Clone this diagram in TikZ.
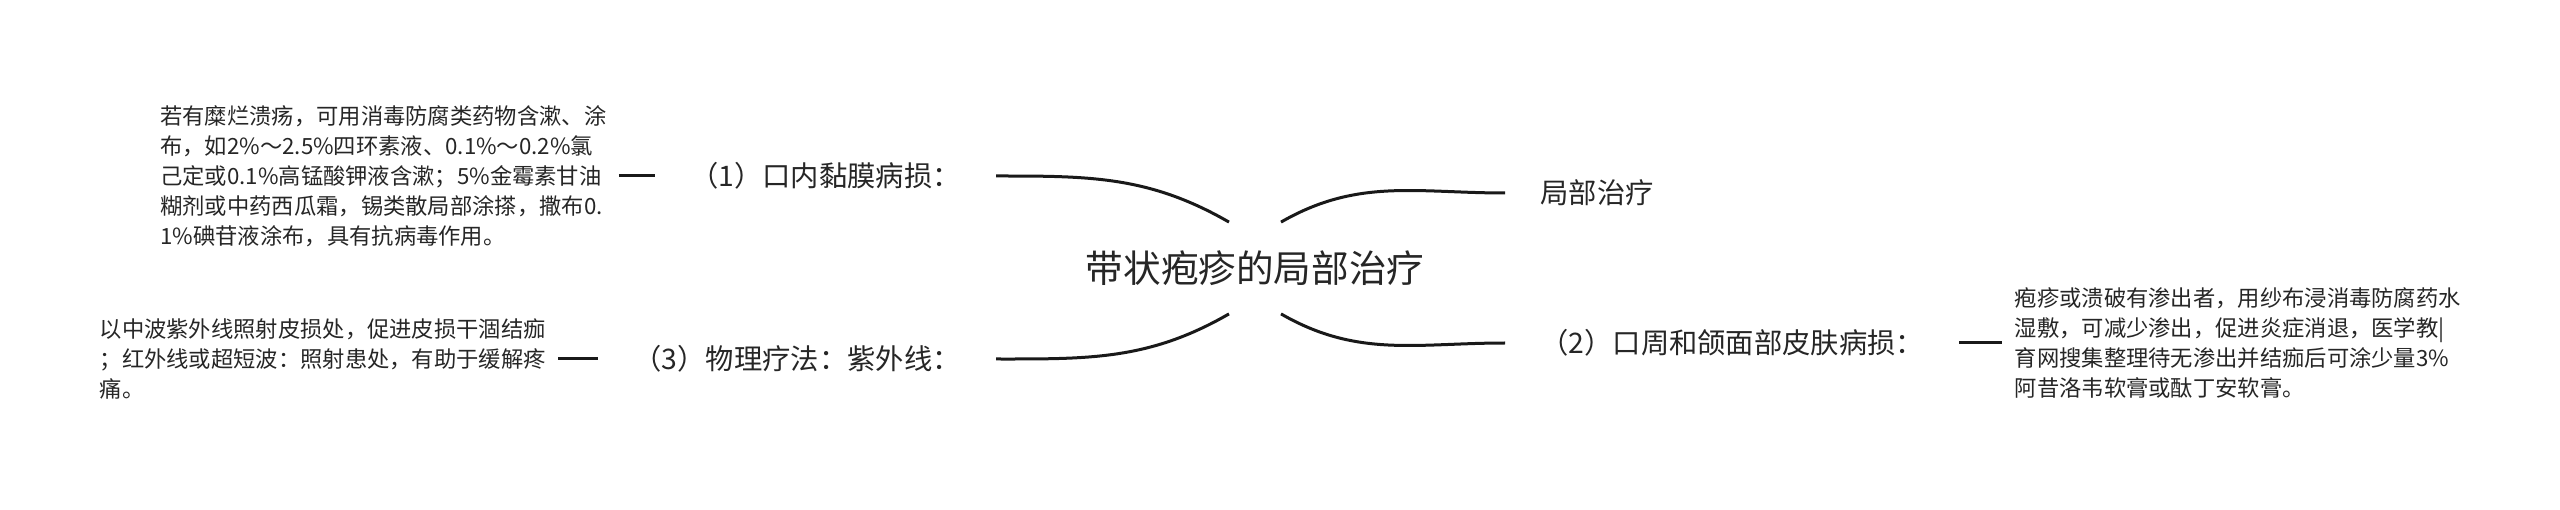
\documentclass[tikz,border=0pt]{standalone}
\usepackage{fontspec}
\newfontfamily\cjk{Noto Sans CJK SC}
\usetikzlibrary{positioning}

\begin{document}
\begin{tikzpicture}[x=0.5pt,y=0.5pt,
    topic/.style={font=\cjk\fontsize{18.8pt}{22pt}\selectfont, inner sep=0pt, minimum height=45.5pt, text=black!85},
    branch/.style={font=\cjk\fontsize{14.15pt}{17pt}\selectfont, inner xsep=17.5pt, inner ysep=2pt, text=black!85},
    detail/.style={font=\cjk\fontsize{11.15pt}{15pt}\selectfont, align=left, inner xsep=6pt, inner ysep=2pt, text=black!85},
    link/.style={line width=1.5pt, black!90}]
    \useasboundingbox (0,0) rectangle (2560,509);

    \node[topic] (root) at (1255,241) {带状疱疹的局部治疗};

    \node[branch, anchor=east] (mouth) at (996,333) {（1）口内黏膜病损：};
    \node[branch, anchor=east] (phys) at (996,150) {（3）物理疗法：紫外线：};
    \node[branch, anchor=west] (local) at (1505,316) {局部治疗};
    \node[branch, anchor=west] (face) at (1505,166) {（2）口周和颌面部皮肤病损：};

    \node[detail, left=18pt of mouth] (mouthtxt) {若有糜烂溃疡，可用消毒防腐类药物含漱、涂\\
        布，如2\%～2.5\%四环素液、0.1\%～0.2\%氯\\
        己定或0.1\%高锰酸钾液含漱；5\%金霉素甘油\\
        糊剂或中药西瓜霜，锡类散局部涂搽，撒布0.\\
        1\%碘苷液涂布，具有抗病毒作用。};
    \node[detail, left=20pt of phys] (phystxt) {以中波紫外线照射皮损处，促进皮损干涸结痂\\
        ；红外线或超短波：照射患处，有助于缓解疼\\
        痛。};
    \node[detail, right=21.5pt of face] (facetxt) {疱疹或溃破有渗出者，用纱布浸消毒防腐药水\\
        湿敷，可减少渗出，促进炎症消退，医学教|\\
        育网搜集整理待无渗出并结痂后可涂少量3\%\\
        阿昔洛韦软膏或酞丁安软膏。};

    \draw[link] ([xshift=-13pt]root.north) to[out=150,in=0] (mouth.east);
    \draw[link] ([xshift=13pt]root.north) to[out=30,in=180] (local.west);
    \draw[link] ([xshift=-13pt]root.south) to[out=-150,in=0] (phys.east);
    \draw[link] ([xshift=13pt]root.south) to[out=-30,in=180] (face.west);

    \draw[link] (mouthtxt) -- (mouth);
    \draw[link] (phystxt) -- (phys);
    \draw[link] (face) -- (facetxt);
\end{tikzpicture}
\end{document}
